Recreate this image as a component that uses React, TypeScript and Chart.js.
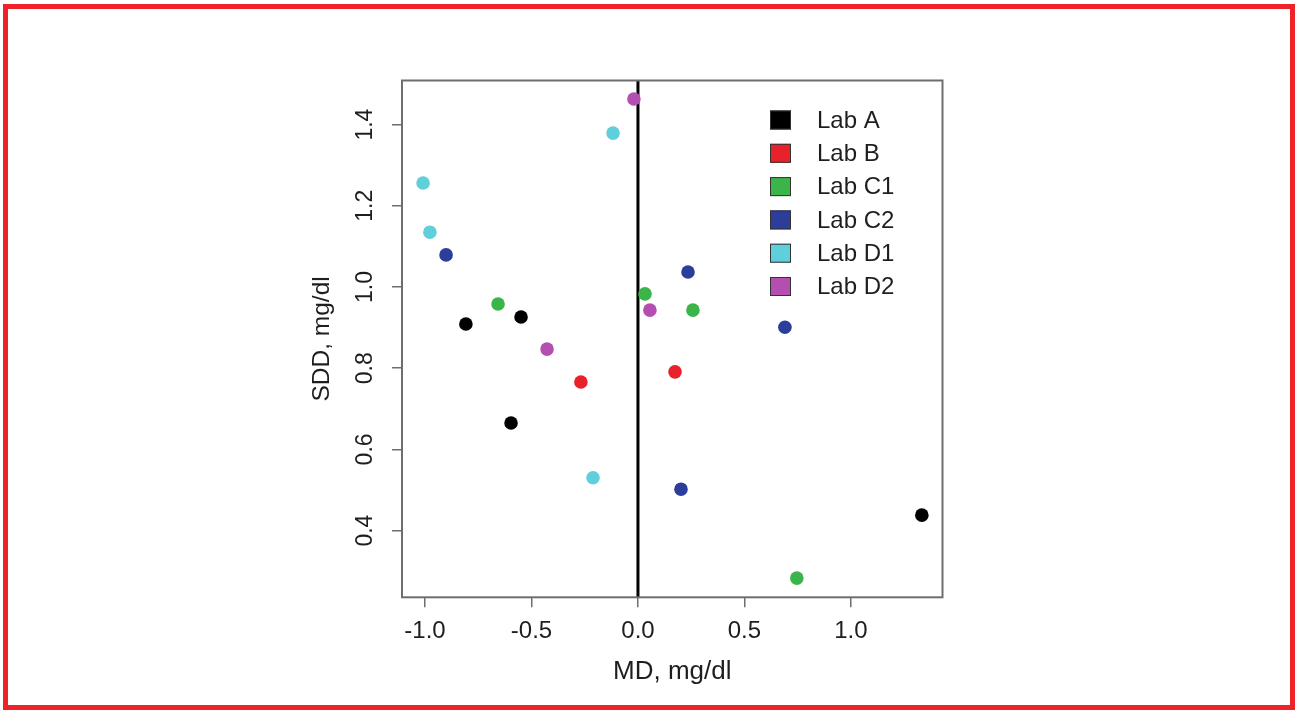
import React, { useEffect, useRef } from "react";
import { Chart, registerables } from "chart.js";

Chart.register(...registerables);

// ---- Data ----
const labNames = ["Lab A", "Lab B", "Lab C1", "Lab C2", "Lab D1", "Lab D2"];
const labColors = ["#000000", "#e8212b", "#3bb54a", "#2c3e9a", "#60cfdc", "#b44fb1"];

const labAX = [-0.808, -0.549, -0.596, 1.333];
const labAY = [0.909, 0.926, 0.665, 0.438];
const labBX = [-0.268, 0.174];
const labBY = [0.766, 0.791];
const labC1X = [-0.657, 0.033, 0.258, 0.746];
const labC1Y = [0.958, 0.983, 0.943, 0.283];
const labC2X = [-0.901, 0.235, 0.69, 0.202];
const labC2Y = [1.079, 1.037, 0.901, 0.502];
const labD1X = [-1.009, -0.977, -0.117, -0.211];
const labD1Y = [1.256, 1.135, 1.379, 0.53];
const labD2X = [-0.019, 0.056, -0.427];
const labD2Y = [1.463, 0.943, 0.847];

const seriesX = [labAX, labBX, labC1X, labC2X, labD1X, labD2X];
const seriesY = [labAY, labBY, labC1Y, labC2Y, labD1Y, labD2Y];

const xTicks = [-1.0, -0.5, 0.0, 0.5, 1.0];
const yTicks = [0.4, 0.6, 0.8, 1.0, 1.2, 1.4];
const xMin = -1.108;
const xMax = 1.43;
const yMin = 0.2357;
const yMax = 1.5086;
const refLineX = 0;

const xTitle = "MD, mg/dl";
const yTitle = "SDD, mg/dl";

const FONT = "'Liberation Sans', Arial, Helvetica, sans-serif";
const TEXT_COLOR = "#1e1e1e";
const AXIS_COLOR = "#6e6e6e";

const framePlugin = {
  id: "frame",
  beforeDraw(chart: any) {
    const { ctx, width, height } = chart;
    ctx.save();
    ctx.fillStyle = "#ffffff";
    ctx.fillRect(0, 0, width, height);
    ctx.strokeStyle = "#ee2229";
    ctx.lineWidth = 5;
    ctx.strokeRect(5.5, 6.5, width - 11, height - 12);
    ctx.restore();
  },
};

const refLinePlugin = {
  id: "refLine",
  beforeDatasetsDraw(chart: any) {
    const { ctx, chartArea } = chart;
    const x = chart.scales.x.getPixelForValue(refLineX);
    ctx.save();
    ctx.strokeStyle = "#000000";
    ctx.lineWidth = 3;
    ctx.beginPath();
    ctx.moveTo(x, chartArea.top);
    ctx.lineTo(x, chartArea.bottom);
    ctx.stroke();
    ctx.restore();
  },
};

const boxPlugin = {
  id: "box",
  afterDraw(chart: any) {
    const { ctx, chartArea } = chart;
    ctx.save();
    ctx.strokeStyle = AXIS_COLOR;
    ctx.lineWidth = 2;
    ctx.strokeRect(
      chartArea.left,
      chartArea.top,
      chartArea.right - chartArea.left,
      chartArea.bottom - chartArea.top
    );
    ctx.restore();
  },
};

const rLegendPlugin = {
  id: "rLegend",
  afterDraw(chart: any) {
    const { ctx } = chart;
    const boxX = 770;
    const startY = 120;
    const step = 33.3;
    const bw = 21;
    const bh = 19;
    ctx.save();
    ctx.font = `24px ${FONT}`;
    ctx.textBaseline = "middle";
    ctx.textAlign = "left";
    chart.data.datasets.forEach((ds: any, i: number) => {
      const cy = startY + i * step;
      ctx.fillStyle = ds.backgroundColor;
      ctx.fillRect(boxX, cy - bh / 2, bw, bh);
      ctx.strokeStyle = "#333333";
      ctx.lineWidth = 1;
      ctx.strokeRect(boxX + 0.5, cy - bh / 2 + 0.5, bw - 1, bh - 1);
      ctx.fillStyle = TEXT_COLOR;
      ctx.fillText(ds.label, boxX + 47, cy + 1);
    });
    ctx.restore();
  },
};

export default function App() {
  const canvasRef = useRef<HTMLCanvasElement | null>(null);

  useEffect(() => {
    const canvas = canvasRef.current;
    if (!canvas) return;

    const datasets = labNames.map((name, i) => ({
      label: name,
      data: seriesX[i].map((x, j) => ({ x, y: seriesY[i][j] })),
      backgroundColor: labColors[i],
      borderColor: labColors[i],
      borderWidth: 0,
      pointRadius: 6.8,
      pointHoverRadius: 6.8,
    }));

    const chart = new Chart(canvas, {
      type: "scatter",
      data: { datasets },
      plugins: [framePlugin, refLinePlugin, boxPlugin, rLegendPlugin],
      options: {
        animation: false,
        responsive: false,
        events: [],
        layout: {
          padding: { left: 300, right: 355.5, top: 80.5, bottom: 20 },
        },
        plugins: {
          legend: { display: false },
          tooltip: { enabled: false },
        },
        scales: {
          x: {
            type: "linear",
            min: xMin,
            max: xMax,
            afterBuildTicks: (s: any) => {
              s.ticks = xTicks.map((v) => ({ value: v }));
            },
            afterFit: (s: any) => {
              s.height = 95.7;
            },
            border: { display: false },
            grid: {
              display: true,
              drawOnChartArea: false,
              drawTicks: true,
              tickLength: 10,
              color: AXIS_COLOR,
              lineWidth: 1.5,
            },
            ticks: {
              padding: 9.3,
              color: TEXT_COLOR,
              font: { family: FONT, size: 24 },
              maxRotation: 0,
              minRotation: 0,
              autoSkip: false,
              callback: (v: any) => Number(v).toFixed(1),
            },
            title: {
              display: true,
              text: xTitle,
              color: TEXT_COLOR,
              font: { family: FONT, size: 26 },
              padding: { top: 0, bottom: 5.4 },
            },
          },
          y: {
            type: "linear",
            min: yMin,
            max: yMax,
            afterBuildTicks: (s: any) => {
              s.ticks = yTicks.map((v) => ({ value: v }));
            },
            afterFit: (s: any) => {
              s.width = 102;
            },
            border: { display: false },
            grid: {
              display: true,
              drawOnChartArea: false,
              drawTicks: true,
              tickLength: 10,
              color: AXIS_COLOR,
              lineWidth: 1.5,
            },
            ticks: {
              padding: 10,
              color: TEXT_COLOR,
              font: { family: FONT, size: 23 },
              minRotation: 90,
              maxRotation: 90,
              crossAlign: "center",
              autoSkip: false,
              callback: (v: any) => Number(v).toFixed(1),
            },
            title: {
              display: true,
              text: yTitle,
              color: TEXT_COLOR,
              font: { family: FONT, size: 24.5 },
              padding: { top: 7.3, bottom: 0 },
            },
          },
        },
      },
    } as any);

    return () => chart.destroy();
  }, []);

  return (
    <div style={{ position: "absolute", left: 0, top: 0, width: 1298, height: 713 }}>
      <canvas ref={canvasRef} width={1298} height={713} style={{ display: "block" }} />
    </div>
  );
}
